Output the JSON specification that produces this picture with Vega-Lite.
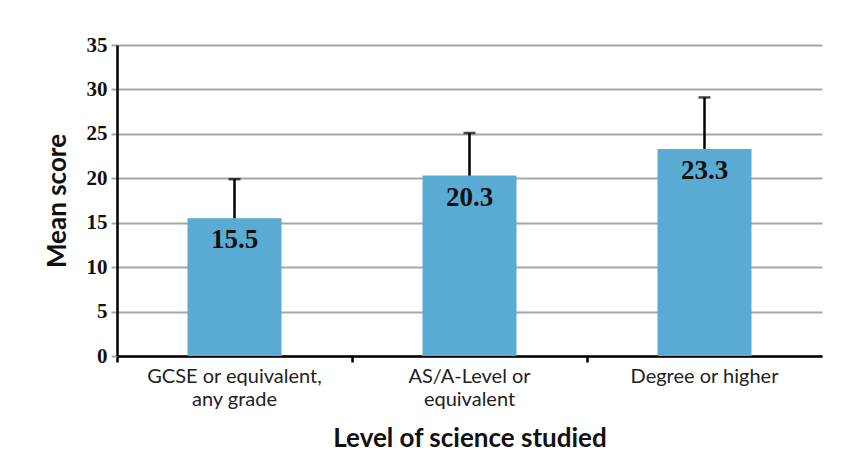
{
  "$schema": "https://vega.github.io/schema/vega-lite/v6.json",
  "width": 705,
  "height": 311,
  "autosize": {"type": "none"},
  "padding": {"left": 117, "top": 45, "right": 21, "bottom": 116},
  "background": "white",
  "config": {"view": {"stroke": null}},
  "data": {
    "values": [
      {"level": "GCSE or equivalent, any grade", "mean": 15.5, "upper": 19.9},
      {"level": "AS/A-Level or equivalent", "mean": 20.3, "upper": 25.1},
      {"level": "Degree or higher", "mean": 23.3, "upper": 29.1}
    ]
  },
  "encoding": {
    "x": {
      "field": "level",
      "type": "nominal",
      "sort": null,
      "scale": {"paddingInner": 0, "paddingOuter": 0},
      "axis": {
        "title": "Level of science studied",
        "titleFont": "Lato",
        "titleFontSize": 26,
        "titleFontWeight": "bold",
        "titleColor": "#111",
        "titlePadding": 16,
        "labelAngle": 0,
        "labelFont": "Lato",
        "labelFontSize": 20,
        "labelColor": "#222",
        "labelPadding": 4,
        "labelLineHeight": 23,
        "labelExpr": "datum.value == 'GCSE or equivalent, any grade' ? ['GCSE or equivalent,', 'any grade'] : datum.value == 'AS/A-Level or equivalent' ? ['AS/A-Level or', 'equivalent'] : datum.value",
        "domainColor": "#000",
        "domainWidth": 2.5,
        "tickColor": "#000",
        "tickWidth": 2.5,
        "tickSize": 6,
        "bandPosition": 0
      }
    }
  },
  "layer": [
    {
      "mark": {"type": "bar", "color": "#5aabd4", "width": {"band": 0.4}},
      "encoding": {
        "y": {
          "field": "mean",
          "type": "quantitative",
          "scale": {"domain": [0, 35], "nice": false},
          "axis": {
            "title": "Mean score",
            "titleFont": "Lato",
            "titleFontSize": 26,
            "titleFontWeight": "bold",
            "titleColor": "#111",
            "titlePadding": 16,
            "values": [0, 5, 10, 15, 20, 25, 30, 35],
            "labelFont": "Liberation Serif",
            "labelFontSize": 21,
            "labelFontWeight": "bold",
            "labelColor": "#111",
            "labelPadding": 4,
            "domainColor": "#000",
            "domainWidth": 2.5,
            "grid": true,
            "gridColor": "#a6a6a6",
            "gridWidth": 2,
            "tickColor": "#a6a6a6",
            "tickWidth": 2,
            "tickSize": 6
          }
        }
      }
    },
    {
      "mark": {"type": "rule", "color": "#000", "strokeWidth": 2.5},
      "encoding": {
        "y": {"field": "mean", "type": "quantitative"},
        "y2": {"field": "upper"}
      }
    },
    {
      "mark": {"type": "tick", "color": "#000", "size": 12, "thickness": 2.5},
      "encoding": {
        "y": {"field": "upper", "type": "quantitative"}
      }
    },
    {
      "mark": {"type": "text", "font": "Liberation Serif", "fontWeight": "bold", "fontSize": 27, "color": "#111", "baseline": "top", "dy": 9},
      "encoding": {
        "y": {"field": "mean", "type": "quantitative"},
        "text": {"field": "mean", "type": "quantitative", "format": ".1f"}
      }
    }
  ]
}
